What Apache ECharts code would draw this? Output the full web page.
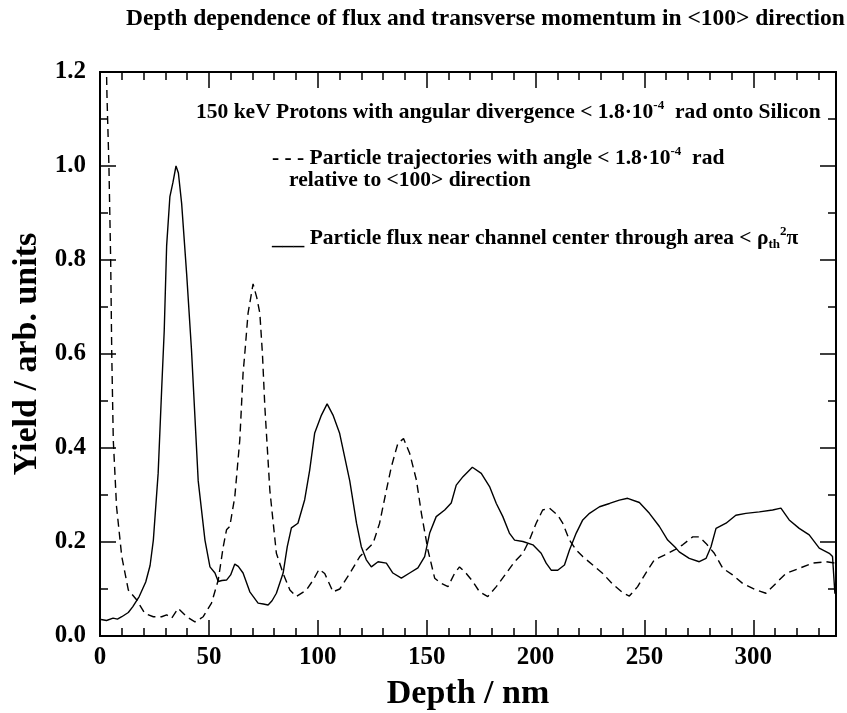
<!DOCTYPE html>
<html>
<head>
<meta charset="utf-8">
<script src="https://cdn.jsdelivr.net/npm/echarts@6/dist/echarts.min.js"></script>
<style>
  html, body { margin: 0; padding: 0; background: #fff; }
  #chart { width: 847px; height: 713px; }
</style>
</head>
<body>
<div id="chart"></div>
<script>
// solid curve: particle flux near channel center
const fluxDepth = [0.5, 3, 6, 8, 10, 13, 15, 18, 21, 23, 24.5, 26.7, 28.3, 29.5, 30.6, 32.1, 33.5, 34.9, 36, 37.5,
  39.8, 42, 45.1, 48.2, 50.5, 52.8, 54.3, 56, 58.1, 60, 61.9, 63.5, 65.7, 68.8, 72.6, 75, 77.2, 79, 81, 84.1,
  86, 87.9, 90.9, 94, 96.3, 98.6, 101.7, 104.3, 107, 110, 112.4, 114.7, 117.8, 120, 122.3, 124.6, 127.7, 131.5, 134.5, 138.4,
  142.2, 146, 149.1, 151.4, 154.4, 158.3, 161.3, 163.6, 166.7, 171, 175.1, 178.9, 182, 185, 188, 190.4, 194.2, 198.8, 202.6, 204.9,
  207.2, 210.2, 213.3, 215.6, 218.7, 221.7, 224.8, 229.4, 234, 238.5, 242.3, 247.7, 252.3, 256.9, 260.7, 264.5, 266, 270.6, 275.2, 278.3,
  280.6, 282.9, 287.5, 292, 296.6, 302.8, 308.9, 312.7, 316.5, 321.1, 325.7, 330.3, 334.9, 336.4, 337.5];
const fluxYield = [0.035, 0.033, 0.038, 0.036, 0.041, 0.05, 0.062, 0.084, 0.115, 0.15, 0.204, 0.346, 0.523, 0.65, 0.83, 0.935, 0.965, 1.0, 0.985, 0.92,
  0.77, 0.61, 0.33, 0.204, 0.147, 0.134, 0.116, 0.118, 0.119, 0.13, 0.153, 0.148, 0.134, 0.094, 0.07, 0.068, 0.066, 0.075, 0.091, 0.134,
  0.19, 0.23, 0.24, 0.29, 0.353, 0.432, 0.47, 0.494, 0.47, 0.432, 0.38, 0.33, 0.24, 0.19, 0.162, 0.147, 0.158, 0.155, 0.134, 0.123,
  0.134, 0.145, 0.169, 0.219, 0.254, 0.268, 0.283, 0.321, 0.339, 0.359, 0.346, 0.318, 0.282, 0.254, 0.219, 0.204, 0.201, 0.194, 0.176, 0.155,
  0.14, 0.14, 0.151, 0.183, 0.219, 0.247, 0.261, 0.275, 0.282, 0.289, 0.293, 0.284, 0.261, 0.233, 0.204, 0.187, 0.179, 0.165, 0.158, 0.165,
  0.19, 0.229, 0.24, 0.257, 0.261, 0.264, 0.268, 0.272, 0.247, 0.229, 0.215, 0.187, 0.176, 0.169, 0.09];

// dashed curve: trajectories with angle < 1.8e-4 rad
const trajDepth = [2.6, 3.2, 4.1, 4.9, 5.4, 6.1, 7.6, 10, 13, 16.8, 20.6, 24.5, 28.3, 30.6, 32.9, 35.9, 39.8, 43.6, 47.4, 51.2,
  54.3, 56.6, 58.1, 59.6, 61.9, 64.2, 65.7, 66.5, 68, 70.3, 72, 73.4, 74.6, 75.7, 78, 81, 84.1, 87.2, 90.2, 94.8,
  97.9, 100.6, 103.2, 107, 110.1, 114.7, 119.3, 122.3, 125.4, 128.4, 131.5, 133.8, 136.8, 139.4, 142.2, 145.3, 147.6, 150.6, 153.7, 156.7,
  159.8, 162.8, 165.1, 168.2, 171.2, 174.3, 178.1, 182, 186.5, 190.4, 194.2, 197.2, 200.3, 203.3, 206.4, 210.2, 212.5, 215.6, 218.7, 221.7,
  226.3, 230.9, 235.5, 240.1, 243.1, 246.9, 250.8, 254.6, 259.2, 263.8, 267.6, 272.2, 275.2, 278.3, 282.1, 286, 290.5, 295.1, 301.2, 305.8,
  310.4, 315, 321.1, 327.2, 333.4, 337.5];
const trajYield = [1.3, 1.15, 1.0, 0.8, 0.6, 0.417, 0.275, 0.169, 0.098, 0.077, 0.048, 0.041, 0.041, 0.045, 0.038, 0.059, 0.041, 0.03, 0.041, 0.07,
  0.119, 0.19, 0.226, 0.233, 0.296, 0.417, 0.559, 0.601, 0.687, 0.749, 0.72, 0.687, 0.6, 0.488, 0.31, 0.176, 0.133, 0.098, 0.084, 0.098,
  0.119, 0.142, 0.133, 0.094, 0.1, 0.133, 0.169, 0.183, 0.197, 0.24, 0.31, 0.36, 0.41, 0.42, 0.389, 0.332, 0.261, 0.183, 0.123, 0.112,
  0.105, 0.133, 0.147, 0.133, 0.116, 0.094, 0.084, 0.105, 0.133, 0.158, 0.176, 0.204, 0.24, 0.268, 0.272, 0.257, 0.24, 0.204, 0.183, 0.169,
  0.151, 0.133, 0.11, 0.092, 0.085, 0.105, 0.135, 0.162, 0.172, 0.183, 0.194, 0.211, 0.211, 0.197, 0.176, 0.144, 0.13, 0.112, 0.098, 0.091,
  0.112, 0.133, 0.144, 0.155, 0.158, 0.155];

const xMax = 338;
const serif = '"Liberation Serif", "DejaVu Serif", serif';

const chart = echarts.init(document.getElementById('chart'));

function xAx(pos, interval, len, withLabel) {
  return {
    type: 'value', position: pos, min: 0, max: xMax, interval: interval,
    axisLine: { show: true, onZero: false, lineStyle: { color: '#000', width: 2 } },
    axisTick: { show: true, inside: true, length: len, lineStyle: { color: '#000', width: 1.5 } },
    axisLabel: withLabel ? {
      show: true, interval: 0, showMaxLabel: false, margin: 9,
      color: '#000', fontFamily: serif, fontWeight: 'bold', fontSize: 25,
      formatter: v => (v % 50 === 0 ? String(v) : '')
    } : { show: false },
    splitLine: { show: false }
  };
}

function yAx(pos, withLabel) {
  return {
    type: 'value', position: pos, min: 0, max: 1.2, interval: 0.2,
    axisLine: { show: true, onZero: false, lineStyle: { color: '#000', width: 2 } },
    axisTick: { show: true, inside: true, length: 16, lineStyle: { color: '#000', width: 1.5 } },
    minorTick: { show: true, splitNumber: 2, length: 8, lineStyle: { color: '#000', width: 1.5 } },
    axisLabel: withLabel ? {
      show: true, margin: 14, color: '#000', fontFamily: serif, fontWeight: 'bold', fontSize: 25,
      formatter: v => v.toFixed(1)
    } : { show: false },
    splitLine: { show: false }
  };
}

const xMain = xAx('bottom', 10, 8, true);
xMain.name = 'Depth / nm';
xMain.nameLocation = 'middle';
xMain.nameGap = 41;
xMain.nameTextStyle = { color: '#000', fontFamily: serif, fontWeight: 'bold', fontSize: 34 };

const yMain = yAx('left', true);
yMain.name = 'Yield / arb. units';
yMain.nameLocation = 'middle';
yMain.nameGap = 56;
yMain.nameTextStyle = { color: '#000', fontFamily: serif, fontWeight: 'bold', fontSize: 34 };

const base = { fontFamily: serif, fontWeight: 'bold', fontSize: 21.5, lineHeight: 26 };
const sup = { fontFamily: serif, fontWeight: 'bold', fontSize: 13, verticalAlign: 'top' };
const sub = { fontFamily: serif, fontWeight: 'bold', fontSize: 13, verticalAlign: 'bottom' };

chart.setOption({
  animation: false,
  backgroundColor: '#fff',
  grid: { left: 100, right: 11, top: 72, bottom: 77, outerBoundsMode: 'none' },
  title: {
    text: 'Depth dependence of flux and transverse momentum in <100> direction',
    left: 121, top: 2,
    textStyle: { color: '#000', fontFamily: serif, fontWeight: 'bold', fontSize: 23.5 }
  },
  xAxis: [
    xMain,
    xAx('bottom', 50, 16, false),
    xAx('top', 10, 8, false),
    xAx('top', 50, 16, false)
  ],
  yAxis: [
    yMain,
    yAx('right', false)
  ],
  series: [
    {
      name: 'flux', type: 'line', xAxisIndex: 0, yAxisIndex: 0,
      data: fluxDepth.map((d, i) => [d, fluxYield[i]]),
      showSymbol: false, symbol: 'none',
      lineStyle: { color: '#000', width: 1.4 }
    },
    {
      name: 'trajectories', type: 'line', xAxisIndex: 0, yAxisIndex: 0,
      data: trajDepth.map((d, i) => [d, trajYield[i]]),
      showSymbol: false, symbol: 'none', clip: true,
      lineStyle: { color: '#000', width: 1.4, type: [8, 5] }
    }
  ],
  graphic: [
    {
      type: 'text', left: 196, top: 99,
      style: {
        text: '{a|150 keV Protons with angular divergence < 1.8·10}{s|-4}{a|  rad onto Silicon}',
        rich: { a: base, s: sup }
      }
    },
    {
      type: 'text', left: 272, top: 145,
      style: {
        text: '{a|- - - Particle trajectories with angle < 1.8·10}{s|-4}{a|  rad}',
        rich: { a: base, s: sup }
      }
    },
    {
      type: 'text', left: 289, top: 169,
      style: {
        text: '{a|relative to <100> direction}',
        rich: { a: base }
      }
    },
    {
      type: 'text', left: 272, top: 225,
      style: {
        text: '{a|___ Particle flux near channel center through area < ρ}{b|th}{s|2}{a|π}',
        rich: { a: base, s: sup, b: sub }
      }
    }
  ]
});
</script>
</body>
</html>
